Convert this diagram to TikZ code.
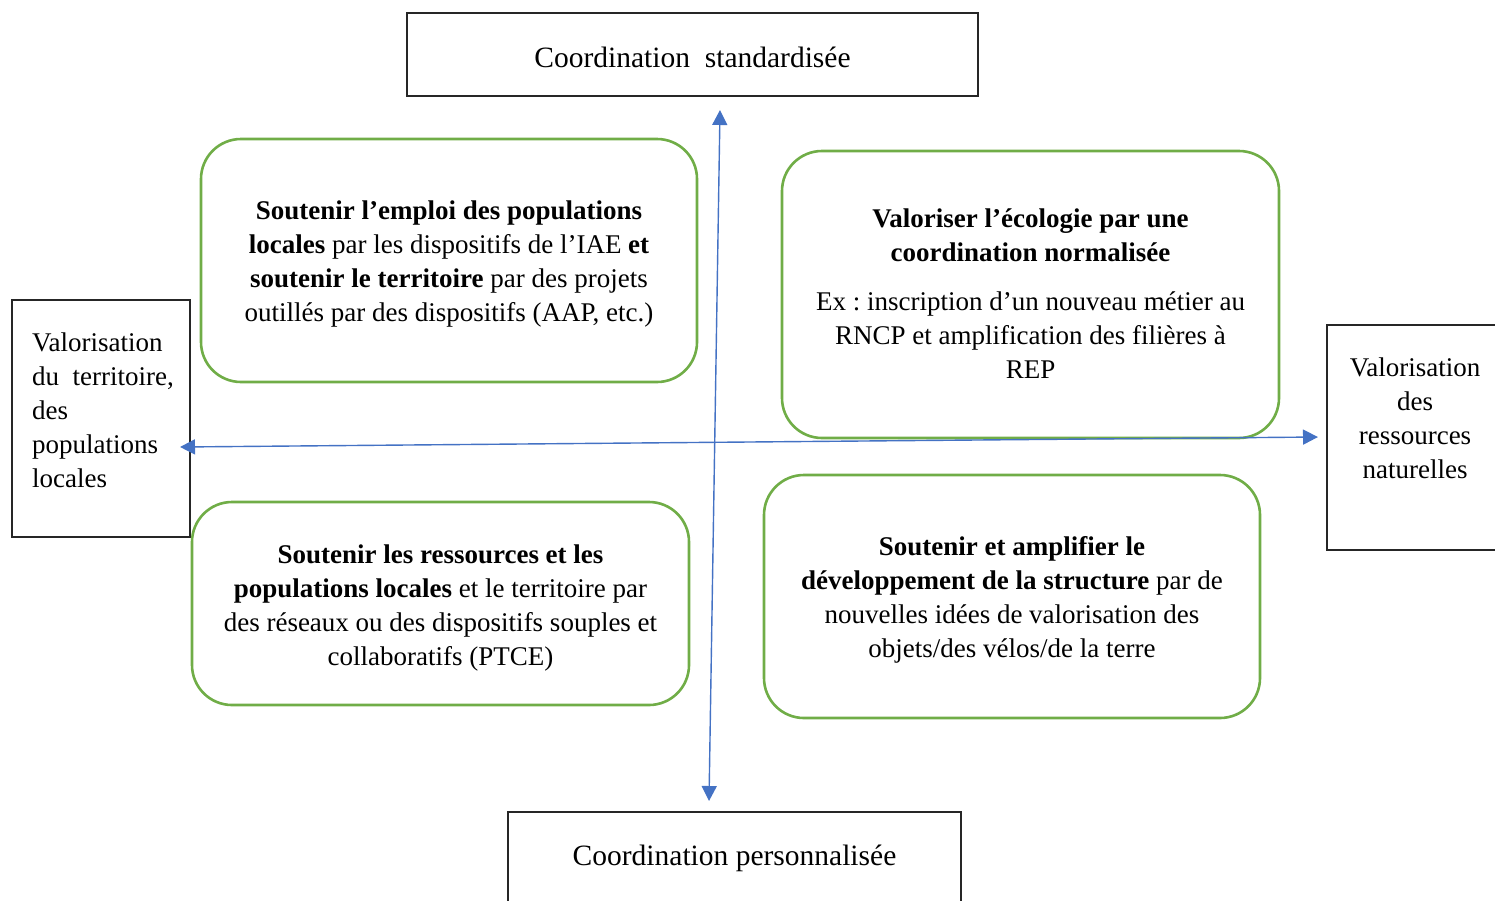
\documentclass[tikz,border=0pt]{standalone}
\usepackage{fontspec}
\setmainfont{Liberation Serif}
\usetikzlibrary{arrows.meta}
\definecolor{axisblue}{HTML}{4472C4}
\definecolor{boxgreen}{HTML}{70AD47}
\frenchspacing
\tikzset{
  blackbox/.style={draw=black!85, line width=1.3pt, inner sep=0pt},
  greenbox/.style={draw=boxgreen, line width=2.6pt, rounded corners=40pt, align=center, inner sep=0pt},
  greentext/.style={align=center, inner sep=0pt},
  biglabel/.style={font=\fontsize{29.5}{36}\selectfont},
  axisline/.style={draw=axisblue, line width=1.4pt, {Triangle[length=15pt,width=15pt]}-{Triangle[length=15pt,width=15pt]}},
}
\begin{document}
\begin{tikzpicture}[x=1pt,y=-1pt]
\useasboundingbox (0,0) rectangle (1495,900);
\clip (0,0) rectangle (1495,900);
\fontsize{27}{34}\selectfont

% outer black boxes
\node[blackbox, minimum width=571pt, minimum height=83pt] (top) at (692.5,54.5) {};
\node[biglabel] (toptext) at (692.5,57) {Coordination~~standardisée};

\node[blackbox, minimum width=453pt, minimum height=100pt] (bot) at (734.5,862) {};
\node[biglabel] (bottext) at (734.5,858) {Coordination personnalisée};

\node[blackbox, minimum width=178pt, minimum height=237pt] (left) at (101,418.5) {};
\node[align=left, anchor=north west, inner sep=0pt] (lefttext) at (32,333) {Valorisation\\du~~territoire,\\des\\populations\\locales};

\node[blackbox, minimum width=190pt, minimum height=225pt] (right) at (1422,437.5) {};
\node[align=center] (righttext) at (1415,418) {Valorisation\\des\\ressources\\naturelles};

% green boxes
\node[greenbox, minimum width=496pt, minimum height=243pt] (tl) at (449,260.5) {};
\node[greentext] (tltext) at (449,264)
  {\textbf{Soutenir l’emploi des populations}\\
   \textbf{locales} par les dispositifs de l’IAE \textbf{et}\\
   \textbf{soutenir le territoire} par des projets\\
   outillés par des dispositifs (AAP, etc.)};

\node[greenbox, minimum width=497pt, minimum height=287pt] (tr) at (1030.5,294.5) {};
\node[greentext] (trtext) at (1030.5,294)
  {\textbf{Valoriser l’écologie par une}\\
   \textbf{coordination normalisée}\\[15pt]
   Ex : inscription d’un nouveau métier au\\
   RNCP et amplification des filières à\\
   REP};

\node[greenbox, minimum width=497pt, minimum height=203pt] (bl) at (440.5,603.5) {};
\node[greentext] (bltext) at (440.5,608)
  {\textbf{Soutenir les ressources et les}\\
   \textbf{populations locales} et le territoire par\\
   des réseaux ou des dispositifs souples et\\
   collaboratifs (PTCE)};

\node[greenbox, minimum width=496pt, minimum height=243pt] (br) at (1012,596.5) {};
\node[greentext] (brtext) at (1012,599.5)
  {\textbf{Soutenir et amplifier le}\\
   \textbf{développement de la structure} par de\\
   nouvelles idées de valorisation des\\
   objets/des vélos/de la terre};

% axes
\coordinate (vtop) at (720,110);
\coordinate (vbot) at (709,801);
\coordinate (hleft) at (180,447);
\coordinate (hright) at (1318,437);
\draw[axisline] (vtop) -- (vbot);
\draw[axisline] (hleft) -- (hright);
\end{tikzpicture}
\end{document}
